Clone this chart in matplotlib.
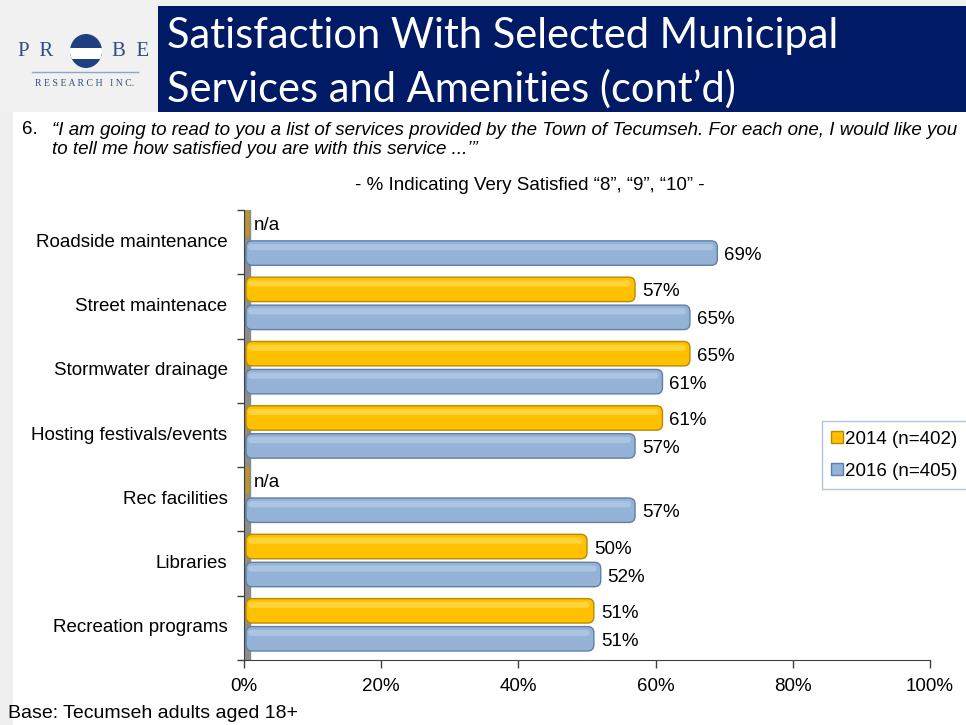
import numpy as np
import matplotlib
matplotlib.use("Agg")
import matplotlib.pyplot as plt
from matplotlib.patches import FancyBboxPatch, Rectangle, Circle
from matplotlib.lines import Line2D

# ---- data -------------------------------------------------------------
categories = [
    "Roadside maintenance",
    "Street maintenace",
    "Stormwater drainage",
    "Hosting festivals/events",
    "Rec facilities",
    "Libraries",
    "Recreation programs",
]
vals_2014 = [None, 57, 65, 61, None, 50, 51]   # None -> n/a
vals_2016 = [69, 65, 61, 57, 57, 52, 51]
series_labels = ["2014 (n=402)", "2016 (n=405)"]
xticks = [0, 20, 40, 60, 80, 100]

TITLE = "Satisfaction With Selected Municipal\nServices and Amenities (cont\u2019d)"
QUESTION = ("\u201cI am going to read to you a list of services provided by the Town of Tecumseh. "
            "For each one, I would like you\nto tell me how satisfied you are with this service ...\u2019\u201d")
SUBTITLE = "- % Indicating Very Satisfied \u201c8\u201d, \u201c9\u201d, \u201c10\u201d -"
FOOTER = "Base: Tecumseh adults aged 18+"

GOLD, GOLD_EDGE, GOLD_HI = "#FFC000", "#B88A00", "#FFDD55"
BLUE, BLUE_EDGE, BLUE_HI = "#95B3D7", "#5F7FA5", "#B4CCE8"
NAVY = "#001A66"
FS = 13.5

plt.rcParams["font.family"] = ["Liberation Sans", "DejaVu Sans"]

W, H = 966, 725
fig = plt.figure(figsize=(W / 100, H / 100), dpi=100)
fig.patch.set_facecolor("white")


def fx(px):
    return px / W


def fy(py):
    return 1 - py / H


# ---- page frame / header ---------------------------------------------
fig.patches.append(Rectangle((0, 0), fx(13), 1, transform=fig.transFigure,
                             facecolor="#EFEFEF", edgecolor="none", zorder=0))
fig.patches.append(Rectangle((0, fy(112)), 1, 112 / H, transform=fig.transFigure,
                             facecolor="#F1F1F1", edgecolor="none", zorder=0))
fig.patches.append(Rectangle((fx(158), fy(112)), 1 - fx(158), (112 - 6) / H,
                             transform=fig.transFigure, facecolor=NAVY,
                             edgecolor="none", zorder=1))
fig.text(fx(167), fy(63), TITLE, color="white", fontsize=30,
         family=["Lato", "DejaVu Sans"],
         va="center", ha="left", linespacing=1.42, zorder=2)

# logo
logo_col = "#2F4F86"
fig.text(fx(36), fy(52), "P  R", fontsize=15, family=["Liberation Serif"],
         color=logo_col, ha="center", va="center")
fig.text(fx(131), fy(52), "B  E", fontsize=15, family=["Liberation Serif"],
         color=logo_col, ha="center", va="center")
fig.text(fx(85), fy(83), "R E S E A R C H   I N C.", fontsize=7,
         family=["Liberation Serif"], color=logo_col, ha="center", va="center")
fig.add_artist(Line2D([fx(32), fx(138)], [fy(72), fy(72)], color="#8FA5C8", lw=1))
lax = fig.add_axes([fx(70), fy(68), 32 / W, 34 / H], zorder=5)
lax.set_xlim(-1, 1)
lax.set_ylim(-1, 1)
lax.axis("off")
circ = Circle((0, 0), 1, facecolor="#1F3F80", edgecolor="none")
lax.add_patch(circ)
band = Rectangle((-1.2, -0.45), 2.4, 0.6, facecolor="white", edgecolor="none")
band.set_clip_path(circ)
lax.add_patch(band)

# question text
fig.text(fx(22), fy(130), "6.", fontsize=FS, ha="left", va="center")
fig.text(fx(52), fy(140), QUESTION, fontsize=FS, style="italic",
         ha="left", va="center", linespacing=1.15)
fig.text(fx(530), fy(185), SUBTITLE, fontsize=FS, ha="center", va="center")
fig.text(fx(8), fy(714), FOOTER, fontsize=14, ha="left", va="center")

# ---- chart ------------------------------------------------------------
ax = fig.add_axes([fx(244), fy(660), (930 - 244) / W, (660 - 210) / H])
ax.set_xlim(0, 100)
ax.set_ylim(len(categories) - 0.5, -0.5)

px_x = (930 - 244) / 100.0       # pixels per % unit
px_y = (660 - 210) / len(categories)
aspect = px_x / px_y
bar_h = 0.38
offsets = [-0.265, 0.17]
styles = [(GOLD, GOLD_EDGE, GOLD_HI), (BLUE, BLUE_EDGE, BLUE_HI)]
wall = 0.9  # depth of the 3-D side wall, in % units

ax.axvspan(-0.3, wall, color="#8C8C8C", zorder=1)

for s, (vals, (fc, ec, hc)) in enumerate(zip([vals_2014, vals_2016], styles)):
    for i, v in enumerate(vals):
        yc = i + offsets[s]
        y0 = yc - bar_h / 2
        if v is None:
            ax.add_patch(Rectangle((0.25, y0 - 0.05), 0.5, bar_h + 0.05,
                                   facecolor="#C8960A", edgecolor="none", zorder=2))
            ax.text(1.4, yc, "n/a", fontsize=FS, ha="left", va="center")
            continue
        ax.add_patch(FancyBboxPatch((0.3, y0), v - 0.3, bar_h,
                                    boxstyle="round,pad=0,rounding_size=0.9",
                                    mutation_aspect=aspect,
                                    facecolor=fc, edgecolor=ec, lw=1.0, zorder=3))
        ax.add_patch(FancyBboxPatch((0.6, y0 + 0.05), v - 1.2, bar_h * 0.25,
                                    boxstyle="round,pad=0,rounding_size=0.5",
                                    mutation_aspect=aspect,
                                    facecolor=hc, edgecolor="none", zorder=4,
                                    alpha=0.7))
        ax.text(v + 1.0, yc + 0.04, f"{v}%", fontsize=FS, ha="left", va="center")

ax.set_xticks(xticks)
ax.set_xticklabels([f"{t}%" for t in xticks], fontsize=FS)
ax.set_yticks(np.arange(-0.5, len(categories) + 0.5, 1))
ax.set_yticklabels([])
ax.tick_params(axis="y", direction="out", length=5, width=1, color="#404040")
ax.tick_params(axis="x", direction="out", length=6, width=1, color="#404040", pad=7)
ax.spines[["top", "right"]].set_visible(False)
ax.spines["left"].set_color("#404040")
ax.spines["bottom"].set_color("#404040")
for i, c in enumerate(categories):
    ax.text(-2.4, i, c, fontsize=FS, ha="right", va="center")

handles = [Line2D([], [], marker="s", ls="none", ms=8, mfc=GOLD, mec=GOLD_EDGE),
           Line2D([], [], marker="s", ls="none", ms=8, mfc=BLUE, mec=BLUE_EDGE)]
leg = fig.legend(handles, series_labels, loc="upper left",
                 bbox_to_anchor=(fx(822), fy(421)), fontsize=FS,
                 frameon=True, fancybox=False, handlelength=0.6,
                 handletextpad=0.15, borderpad=0.5, labelspacing=0.8,
                 borderaxespad=0)
leg.get_frame().set_edgecolor("#A0B4D0")
leg.get_frame().set_linewidth(1)

fig.savefig("out.png", dpi=100, facecolor=fig.get_facecolor())
